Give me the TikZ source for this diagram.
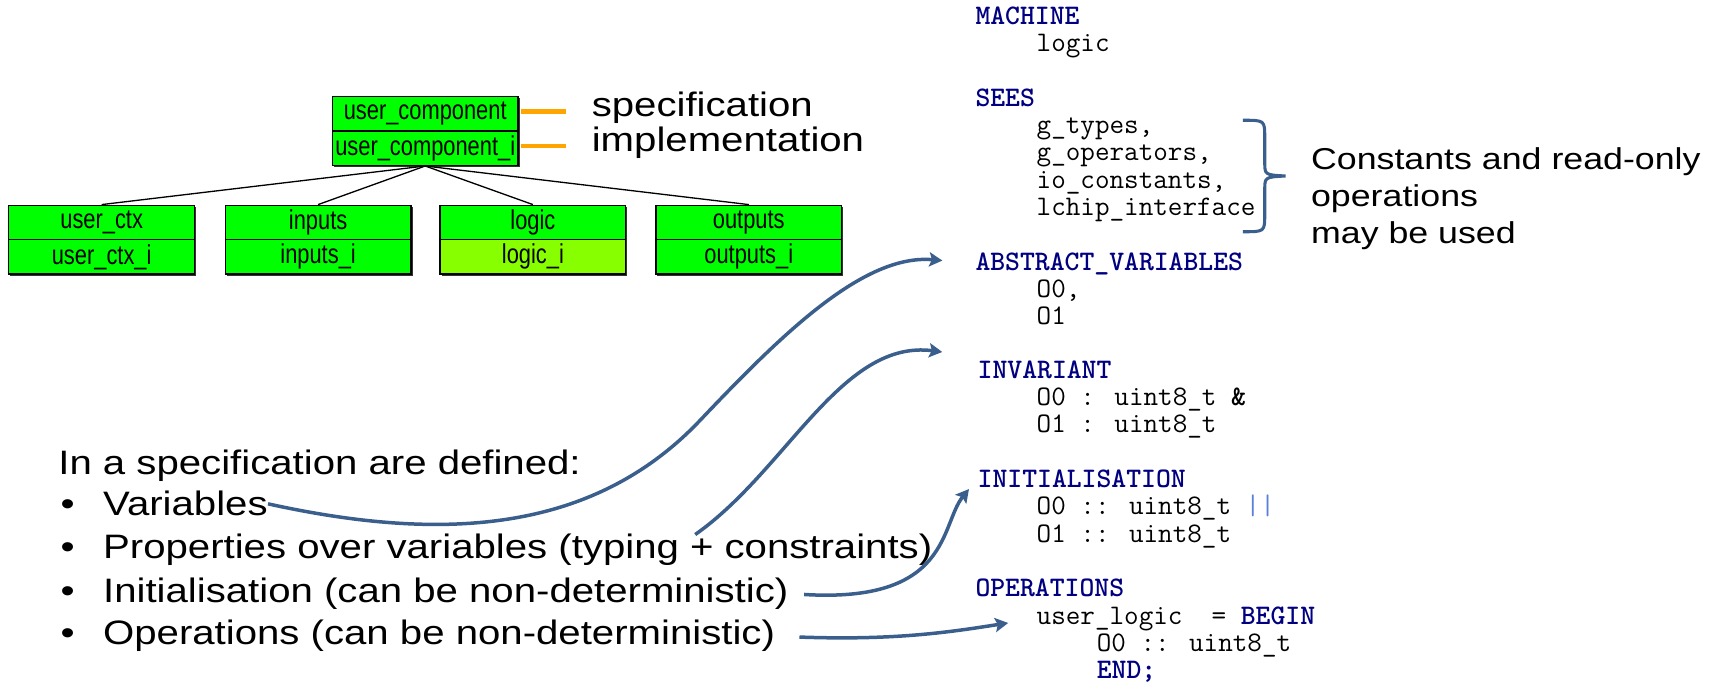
\documentclass[tikz,border=0pt]{standalone}
\usepackage{fontspec}
\setmainfont{Liberation Sans}[FakeStretch=1.185]
\newfontfamily\boxfont{Liberation Sans}[FakeStretch=0.8]
\usetikzlibrary{arrows.meta,shadows}
\definecolor{bmgreen}{RGB}{0,255,0}
\definecolor{bmlime}{RGB}{136,255,0}
\definecolor{bmorange}{RGB}{255,165,0}
\definecolor{bmnavy}{RGB}{0,0,128}
\definecolor{bmsteel}{RGB}{58,95,140}
\definecolor{bmpipe}{RGB}{90,130,220}
\begin{document}
\begin{tikzpicture}[x=0.5pt,y=-0.5pt,
    comp/.style={draw,line width=0.6pt,fill=bmgreen,minimum width=85pt,minimum height=15.75pt,inner sep=0pt,
      font=\boxfont\fontsize{12.5}{13}\selectfont,
      drop shadow={shadow xshift=0.7pt,shadow yshift=-0.7pt,fill=black,opacity=0.8}},
    lbl/.style={inner sep=0pt,anchor=base west,font=\fontsize{15.5}{18}\selectfont},
    note/.style={inner sep=0pt,anchor=base west,font=\fontsize{13.8}{17}\selectfont},
    kw/.style={inner sep=0pt,anchor=base west,text=bmnavy,font=\ttfamily\bfseries\fontsize{12.95}{15}\selectfont},
    code/.style={inner sep=0pt,anchor=base west,font=\ttfamily\fontsize{12.95}{15}\selectfont},
    tree/.style={line width=0.6pt},
    tick/.style={draw=bmorange,line width=1.85pt},
    flow/.style={draw=bmsteel,line width=1.6pt,-{Stealth[length=6pt,width=6.5pt,inset=1.2pt]}}]
  \useasboundingbox (0,0) rectangle (1568,633);

  \node[comp] (ucomp) at (389,104) {user\_component};
  \node[comp] (ucompi) at (389,135.5) {user\_component\_i};
  \node[comp] (uctx) at (93,203.5) {user\_ctx};
  \node[comp] (uctxi) at (93,235) {user\_ctx\_i};
  \node[comp] (inp) at (291,203.5) {inputs};
  \node[comp] (inpi) at (291,235) {inputs\_i};
  \node[comp] (lgc) at (487.5,203.5) {logic};
  \node[comp,fill=bmlime] (lgci) at (487.5,235) {logic\_i};
  \node[comp] (outp) at (685,203.5) {outputs};
  \node[comp] (outpi) at (685,235) {outputs\_i};
  \draw[tree] (ucompi.south) -- (uctx.north);
  \draw[tree] (ucompi.south) -- (inp.north);
  \draw[tree] (ucompi.south) -- (lgc.north);
  \draw[tree] (ucompi.south) -- (outp.north);

  \node[lbl] (spec) at (541,107) {specification};
  \node[lbl] (impl) at (541,139) {implementation};
  \draw[tick,shorten <=1pt,shorten >=11.5pt] ([yshift=1pt]ucomp.east) -- ([yshift=1pt]ucomp.east -| spec.west);
  \draw[tick,shorten <=1pt,shorten >=11.5pt] ([yshift=1pt]ucompi.east) -- ([yshift=1pt]ucompi.east -| impl.west);

  \node[lbl] (head) at (53,434) {In a specification are defined:};
  \node[lbl] (itvar) at (94,472) {\llap{\textbullet\hspace{13pt}}Variables};
  \node[lbl] (itprop) at (94,511) {\llap{\textbullet\hspace{13pt}}Properties over variables (typing + constraints)};
  \node[lbl] (itinit) at (94,551) {\llap{\textbullet\hspace{13pt}}Initialisation (can be non-deterministic)};
  \node[lbl] (itops) at (94,590) {\llap{\textbullet\hspace{13pt}}Operations (can be non-deterministic)};

  \node[kw] (kwmach) at (892,22) {MACHINE};
  \node[code] (cmach) at (948,47) {logic};
  \node[kw] (kwsees) at (892,97) {SEES};
  \node[code] (csees1) at (948,122) {g\_types,};
  \node[code] (csees2) at (948,147) {g\_operators,};
  \node[code] (csees3) at (948,172) {io\_constants,};
  \node[code] (csees4) at (948,197) {lchip\_interface};
  \node[kw] (kwabs) at (892,247) {ABSTRACT\_VARIABLES};
  \node[code] (cabs1) at (948,272) {O0,};
  \node[code] (cabs2) at (948,297) {O1};
  \node[kw] (kwinv) at (894,346) {INVARIANT};
  \node[code] (cinv1) at (948,371) {O0 : uint8\_t \textbf{\&}};
  \node[code] (cinv2) at (948,396) {O1 : uint8\_t};
  \node[kw] (kwinit) at (894,446) {INITIALISATION};
  \node[code] (cinit1) at (948,471) {O0 :: uint8\_t {\color{bmpipe}||}};
  \node[code] (cinit2) at (948,496) {O1 :: uint8\_t};
  \node[kw] (kwops) at (892,546) {OPERATIONS};
  \node[code] (cops1) at (948,571) {user\_logic~~=~{\bfseries\color{bmnavy}BEGIN}};
  \node[code] (cops2) at (1003,596) {O0 :: uint8\_t};
  \node[kw] (cops3) at (1003,621) {END;};

  \draw[bmsteel,line width=1.4pt] (1137,110) .. controls (1157,110) .. (1157,126) -- (1157,148)
    .. controls (1157,160) .. (1176,161) .. controls (1157,162) .. (1157,174) -- (1157,196)
    .. controls (1157,212) .. (1137,212);
  \node[note] (note1) at (1199,155) {Constants and read-only};
  \node[note] (note2) at (1199,189) {operations};
  \node[note] (note3) at (1199,223) {may be used};

  \coordinate (propfrom) at (636,489);
  \coordinate (invto) at (862,322);
  \draw[flow,shorten >=15pt] (itvar.east) .. controls (400,495) and (540,490) .. (640,385)
    .. controls (715,306) and (790,232) .. (kwabs.west);
  \draw[flow] (propfrom) .. controls (720,430) and (770,310) .. (invto);
  \draw[flow,shorten <=7pt,shorten >=6pt] (itinit.east) .. controls (870,552) and (860,480) .. (kwinit.west);
  \draw[flow,shorten <=11pt,shorten >=13pt] (itops.east) .. controls (820,586) and (870,578) .. (cops1.west);
\end{tikzpicture}
\end{document}
